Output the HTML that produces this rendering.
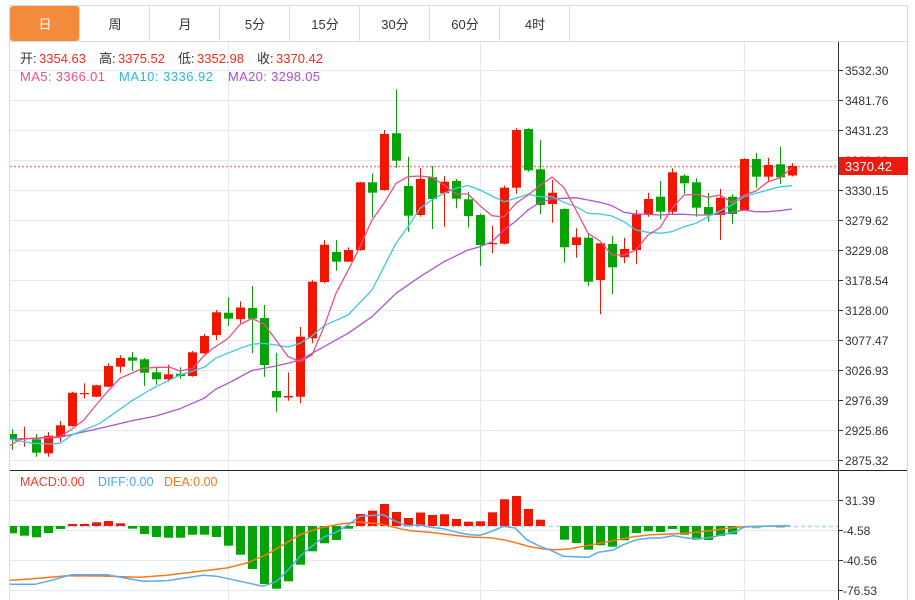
<!DOCTYPE html>
<html><head><meta charset="utf-8"><style>
html,body{margin:0;padding:0;background:#fff;}
svg{display:block;}
text{font-family:"Liberation Sans","Noto Sans CJK SC",sans-serif;}
</style></head><body>
<svg width="915" height="600" viewBox="0 0 915 600" xmlns="http://www.w3.org/2000/svg">
<defs><clipPath id="c"><rect x="10" y="42" width="828" height="558"/></clipPath></defs>
<rect width="915" height="600" fill="#fff"/>
<!-- tab bar -->
<rect x="10" y="6" width="69" height="35" rx="3" fill="#f28b3c"/>
<g stroke="#dcdcdc" stroke-width="1">
<line x1="9" y1="5.5" x2="908" y2="5.5"/>
<line x1="9.5" y1="5" x2="9.5" y2="600"/>
<line x1="907.5" y1="5" x2="907.5" y2="600"/>
<line x1="10" y1="41.5" x2="907" y2="41.5"/>
<line x1="79.5" y1="6" x2="79.5" y2="41"/>
<line x1="149.5" y1="6" x2="149.5" y2="41"/>
<line x1="219.5" y1="6" x2="219.5" y2="41"/>
<line x1="289.5" y1="6" x2="289.5" y2="41"/>
<line x1="359.5" y1="6" x2="359.5" y2="41"/>
<line x1="429.5" y1="6" x2="429.5" y2="41"/>
<line x1="499.5" y1="6" x2="499.5" y2="41"/>
<line x1="569.5" y1="6" x2="569.5" y2="41"/>
</g>
<g font-size="13" text-anchor="middle" fill="#333">
<text x="45" y="29" fill="#fff">日</text>
<text x="115" y="29">周</text>
<text x="185" y="29">月</text>
<text x="255" y="29">5分</text>
<text x="325" y="29">15分</text>
<text x="395" y="29">30分</text>
<text x="465" y="29">60分</text>
<text x="535" y="29">4时</text>
</g>
<!-- grid -->
<g stroke="#e1eaf1" stroke-width="1">
<line x1="10" y1="70.5" x2="838" y2="70.5"/>
<line x1="10" y1="100.5" x2="838" y2="100.5"/>
<line x1="10" y1="130.5" x2="838" y2="130.5"/>
<line x1="10" y1="160.5" x2="838" y2="160.5"/>
<line x1="10" y1="190.5" x2="838" y2="190.5"/>
<line x1="10" y1="220.5" x2="838" y2="220.5"/>
<line x1="10" y1="250.5" x2="838" y2="250.5"/>
<line x1="10" y1="280.5" x2="838" y2="280.5"/>
<line x1="10" y1="310.5" x2="838" y2="310.5"/>
<line x1="10" y1="340.5" x2="838" y2="340.5"/>
<line x1="10" y1="370.5" x2="838" y2="370.5"/>
<line x1="10" y1="400.5" x2="838" y2="400.5"/>
<line x1="10" y1="430.5" x2="838" y2="430.5"/>
<line x1="10" y1="460.5" x2="838" y2="460.5"/>
<line x1="10" y1="500.5" x2="838" y2="500.5"/>
<line x1="10" y1="530.5" x2="838" y2="530.5"/>
<line x1="10" y1="560.5" x2="838" y2="560.5"/>
<line x1="10" y1="590.5" x2="838" y2="590.5"/>
<line x1="228.5" y1="42" x2="228.5" y2="600"/>
<line x1="480.5" y1="42" x2="480.5" y2="600"/>
<line x1="744.5" y1="42" x2="744.5" y2="600"/>
</g>
<!-- legend -->
<g font-size="13">
<text x="20" y="63" fill="#333">开:</text><text x="39" y="63" fill="#ee2a1e">3354.63</text>
<text x="99" y="63" fill="#333">高:</text><text x="118" y="63" fill="#ee2a1e">3375.52</text>
<text x="178" y="63" fill="#333">低:</text><text x="197" y="63" fill="#ee2a1e">3352.98</text>
<text x="257" y="63" fill="#333">收:</text><text x="276" y="63" fill="#ee2a1e">3370.42</text>
<text x="20" y="81" fill="#e9508a" textLength="85">MA5: 3366.01</text>
<text x="119" y="81" fill="#22bcd8" textLength="94">MA10: 3336.92</text>
<text x="228" y="81" fill="#a853c8" textLength="92">MA20: 3298.05</text>
</g>
<g clip-path="url(#c)">
<!-- current price line -->
<line x1="10" y1="166.5" x2="838" y2="166.5" stroke="#f3807a" stroke-width="1.5" stroke-dasharray="2 2"/>
<!-- red candles -->
<g fill="#f21600" stroke="#f21600" stroke-width="1">
<line x1="24.5" y1="426.7" x2="24.5" y2="446.7"/><rect stroke="none" x="20" y="438" width="9" height="1.2"/>
<line x1="48.5" y1="432" x2="48.5" y2="456.7"/><rect stroke="none" x="44" y="435.7" width="9" height="17.6"/>
<line x1="60.5" y1="421" x2="60.5" y2="441.7"/><rect stroke="none" x="56" y="425.3" width="9" height="11.4"/>
<line x1="72.5" y1="392" x2="72.5" y2="426.7"/><rect stroke="none" x="68" y="392.7" width="9" height="33.3"/>
<line x1="84.5" y1="383.3" x2="84.5" y2="398.3"/><rect stroke="none" x="80" y="393" width="9" height="1.2"/>
<line x1="96.5" y1="384.7" x2="96.5" y2="397.3"/><rect stroke="none" x="92" y="385.3" width="9" height="11.4"/>
<line x1="108.5" y1="363.3" x2="108.5" y2="387.3"/><rect stroke="none" x="104" y="366" width="9" height="20.7"/>
<line x1="120.5" y1="355.3" x2="120.5" y2="372.7"/><rect stroke="none" x="116" y="358" width="9" height="8.7"/>
<line x1="168.5" y1="364.7" x2="168.5" y2="381.7"/><rect stroke="none" x="164" y="374.3" width="9" height="5"/>
<line x1="192.5" y1="351" x2="192.5" y2="376.7"/><rect stroke="none" x="188" y="352.3" width="9" height="23.7"/>
<line x1="204.5" y1="334" x2="204.5" y2="354"/><rect stroke="none" x="200" y="336" width="9" height="17.3"/>
<line x1="216.5" y1="310" x2="216.5" y2="340"/><rect stroke="none" x="212" y="312.3" width="9" height="22.7"/>
<line x1="240.5" y1="301.3" x2="240.5" y2="323.3"/><rect stroke="none" x="236" y="307.5" width="9" height="11.7"/>
<line x1="288.5" y1="372.5" x2="288.5" y2="400.7"/><rect stroke="none" x="284" y="396" width="9" height="1.5"/>
<line x1="300.5" y1="327" x2="300.5" y2="403.3"/><rect stroke="none" x="296" y="336.7" width="9" height="60"/>
<line x1="312.5" y1="280.3" x2="312.5" y2="343.3"/><rect stroke="none" x="308" y="281.7" width="9" height="56.6"/>
<line x1="324.5" y1="240" x2="324.5" y2="283.3"/><rect stroke="none" x="320" y="244.7" width="9" height="37.3"/>
<line x1="348.5" y1="247.3" x2="348.5" y2="261.7"/><rect stroke="none" x="344" y="250" width="9" height="11.7"/>
<line x1="360.5" y1="181.7" x2="360.5" y2="250.7"/><rect stroke="none" x="356" y="182.3" width="9" height="67.7"/>
<line x1="384.5" y1="130" x2="384.5" y2="190.7"/><rect stroke="none" x="380" y="134" width="9" height="56"/>
<line x1="420.5" y1="168" x2="420.5" y2="216.7"/><rect stroke="none" x="416" y="179" width="9" height="36"/>
<line x1="444.5" y1="176" x2="444.5" y2="226.7"/><rect stroke="none" x="440" y="181.7" width="9" height="11.6"/>
<line x1="492.5" y1="226" x2="492.5" y2="253.3"/><rect stroke="none" x="488" y="243" width="9" height="1.2"/>
<line x1="504.5" y1="185.7" x2="504.5" y2="244.3"/><rect stroke="none" x="500" y="187.7" width="9" height="56"/>
<line x1="516.5" y1="128.3" x2="516.5" y2="193.7"/><rect stroke="none" x="512" y="130" width="9" height="57.7"/>
<line x1="552.5" y1="180" x2="552.5" y2="222.7"/><rect stroke="none" x="548" y="192.7" width="9" height="11.3"/>
<line x1="576.5" y1="228.3" x2="576.5" y2="257.7"/><rect stroke="none" x="572" y="237.3" width="9" height="7.7"/>
<line x1="600.5" y1="243.3" x2="600.5" y2="314.3"/><rect stroke="none" x="596" y="243.3" width="9" height="36.7"/>
<line x1="624.5" y1="237.7" x2="624.5" y2="263.3"/><rect stroke="none" x="620" y="249" width="9" height="8.3"/>
<line x1="636.5" y1="210" x2="636.5" y2="264.3"/><rect stroke="none" x="632" y="214.3" width="9" height="35.7"/>
<line x1="648.5" y1="192.7" x2="648.5" y2="216.7"/><rect stroke="none" x="644" y="199" width="9" height="15.3"/>
<line x1="672.5" y1="168.3" x2="672.5" y2="215"/><rect stroke="none" x="668" y="172.3" width="9" height="39.4"/>
<line x1="720.5" y1="189" x2="720.5" y2="240"/><rect stroke="none" x="716" y="197.7" width="9" height="17.3"/>
<line x1="744.5" y1="158.3" x2="744.5" y2="210.7"/><rect stroke="none" x="740" y="159" width="9" height="51"/>
<line x1="768.5" y1="157.7" x2="768.5" y2="181"/><rect stroke="none" x="764" y="165" width="9" height="11.7"/>
<line x1="792.5" y1="163.1" x2="792.5" y2="176.5"/><rect stroke="none" x="788" y="166" width="9" height="9.5"/>
</g>
<!-- green candles -->
<g fill="#05a305" stroke="#05a305" stroke-width="1">
<line x1="12.5" y1="429.3" x2="12.5" y2="450"/><rect stroke="none" x="8" y="434" width="9" height="5.3"/>
<line x1="36.5" y1="434" x2="36.5" y2="456.7"/><rect stroke="none" x="32" y="439.3" width="9" height="13.4"/>
<line x1="132.5" y1="352" x2="132.5" y2="370.7"/><rect stroke="none" x="128" y="357.3" width="9" height="3.4"/>
<line x1="144.5" y1="358" x2="144.5" y2="386"/><rect stroke="none" x="140" y="359.3" width="9" height="13.4"/>
<line x1="156.5" y1="366.7" x2="156.5" y2="384.7"/><rect stroke="none" x="152" y="372.3" width="9" height="7"/>
<line x1="180.5" y1="367.3" x2="180.5" y2="378.7"/><rect stroke="none" x="176" y="373.7" width="9" height="2.3"/>
<line x1="228.5" y1="297.3" x2="228.5" y2="326"/><rect stroke="none" x="224" y="312.7" width="9" height="6"/>
<line x1="252.5" y1="286" x2="252.5" y2="353.3"/><rect stroke="none" x="248" y="308" width="9" height="10.7"/>
<line x1="264.5" y1="305" x2="264.5" y2="376.7"/><rect stroke="none" x="260" y="318" width="9" height="47"/>
<line x1="276.5" y1="352.7" x2="276.5" y2="411.7"/><rect stroke="none" x="272" y="391" width="9" height="6.5"/>
<line x1="336.5" y1="240" x2="336.5" y2="270.7"/><rect stroke="none" x="332" y="252" width="9" height="9.7"/>
<line x1="372.5" y1="173.3" x2="372.5" y2="217.3"/><rect stroke="none" x="368" y="182.3" width="9" height="10.4"/>
<line x1="396.5" y1="89.3" x2="396.5" y2="168.3"/><rect stroke="none" x="392" y="133.3" width="9" height="27.4"/>
<line x1="408.5" y1="156.7" x2="408.5" y2="231.7"/><rect stroke="none" x="404" y="186" width="9" height="29.7"/>
<line x1="432.5" y1="166" x2="432.5" y2="229"/><rect stroke="none" x="428" y="177.3" width="9" height="21.7"/>
<line x1="456.5" y1="179" x2="456.5" y2="208.3"/><rect stroke="none" x="452" y="181" width="9" height="17.7"/>
<line x1="468.5" y1="191.7" x2="468.5" y2="227.5"/><rect stroke="none" x="464" y="199.3" width="9" height="16.7"/>
<line x1="480.5" y1="213.7" x2="480.5" y2="265.7"/><rect stroke="none" x="476" y="215" width="9" height="30"/>
<line x1="528.5" y1="128.3" x2="528.5" y2="171.7"/><rect stroke="none" x="524" y="129" width="9" height="41.3"/>
<line x1="540.5" y1="140" x2="540.5" y2="214.3"/><rect stroke="none" x="536" y="169.3" width="9" height="35.7"/>
<line x1="564.5" y1="208.3" x2="564.5" y2="262.7"/><rect stroke="none" x="560" y="209" width="9" height="38.3"/>
<line x1="588.5" y1="233.3" x2="588.5" y2="286"/><rect stroke="none" x="584" y="237.7" width="9" height="44"/>
<line x1="612.5" y1="236" x2="612.5" y2="294.3"/><rect stroke="none" x="608" y="244" width="9" height="23.3"/>
<line x1="660.5" y1="181" x2="660.5" y2="219.3"/><rect stroke="none" x="656" y="196.7" width="9" height="15"/>
<line x1="684.5" y1="174.3" x2="684.5" y2="193.7"/><rect stroke="none" x="680" y="175.7" width="9" height="7.6"/>
<line x1="696.5" y1="178.3" x2="696.5" y2="216.7"/><rect stroke="none" x="692" y="182.3" width="9" height="25.4"/>
<line x1="708.5" y1="193" x2="708.5" y2="221.7"/><rect stroke="none" x="704" y="207" width="9" height="7.3"/>
<line x1="732.5" y1="194.3" x2="732.5" y2="224.3"/><rect stroke="none" x="728" y="196.7" width="9" height="17.3"/>
<line x1="756.5" y1="152.7" x2="756.5" y2="187.7"/><rect stroke="none" x="752" y="159" width="9" height="17.7"/>
<line x1="780.5" y1="146.7" x2="780.5" y2="184"/><rect stroke="none" x="776" y="164.3" width="9" height="13"/>
</g>
<!-- MA lines -->
<g fill="none" stroke-width="1.3" stroke-linejoin="round">
<polyline stroke="#b255c9" points="10,439.3 60,437.3 100,428.3 132,420.7 156,416 180,408.7 204,398.3 216,389 228,383.3 252,370.5 276,366 288,363.3 300,360 324,346.7 348,333.3 372,316.7 396,293.3 420,276.7 444,261.7 468,250 480,246.7 492,241.7 504,230 516,221 528,210 540,202.3 552,199 564,198.3 576,197.7 588,200 600,202.3 612,205.7 624,212.3 636,214 648,214.3 660,215 672,214.3 684,214.3 696,215 708,215 720,214 732,212.3 744,210 756,211.7 768,211.7 780,210.7 792,209"/>
<polyline stroke="#3fc8e0" points="10,439.3 33,443.3 50,444 60,443.3 72,435 100,423.3 132,400.7 150,390 156,386.7 180,375 204,367.3 216,358 240,348.3 252,344.2 264,343.3 276,345 288,347 300,343.3 312,336 324,325.7 348,315 372,290 384,266.7 396,243.3 408,226.7 420,208.3 432,200 444,193.3 456,188.3 468,185.5 480,190 492,196 504,201.7 516,198.3 528,194.3 540,196.7 552,196.7 564,202.3 576,206.7 588,213.3 600,214 612,216 624,221.7 636,230 648,232.3 660,233.3 672,231.7 684,226.7 696,223.3 708,216.7 720,211 732,205 744,196.7 756,193.3 768,190 780,186.7 792,185.7"/>
<polyline stroke="#ec4d86" points="10,445.7 20,439.3 33,438.3 60,436.7 72,429 84,420 96,405 108,391 120,378.3 143,368.3 157,367.3 170,367.3 180,371 193,368.3 203,356.7 213,348.3 228,338.5 240,324.5 252,318.5 264,324 276,340 288,356.5 300,361.7 312,355 324,326.7 336,293.3 350,266.7 360,246.7 372,220 384,203.3 396,183.3 408,176.7 420,176 432,177.3 444,185 456,194 468,194 480,205.7 492,215.7 504,217 516,203.3 528,195 540,185.7 552,177 564,187.7 576,210 588,233.3 600,241 612,255 624,255 636,250 648,235 660,227.7 672,208.3 684,195 696,194.3 708,197.3 720,195 732,202.3 744,195 756,191 768,181.7 780,177.7 792,167.7"/>
</g>
<!-- MACD -->
<line x1="10" y1="526.5" x2="838" y2="526.5" stroke="#a9d9ee" stroke-width="1.5" stroke-dasharray="4 3"/>
<g fill="#05a305">
<rect x="8" y="526" width="9" height="7.3"/>
<rect x="20" y="526" width="9" height="9.7"/>
<rect x="32" y="526" width="9" height="11.3"/>
<rect x="44" y="526" width="9" height="7"/>
<rect x="56" y="526" width="9" height="3"/>
<rect x="128" y="526" width="9" height="2.7"/>
<rect x="140" y="526" width="9" height="8"/>
<rect x="152" y="526" width="9" height="11"/>
<rect x="164" y="526" width="9" height="11.7"/>
<rect x="176" y="526" width="9" height="11.7"/>
<rect x="188" y="526" width="9" height="8.7"/>
<rect x="200" y="526" width="9" height="8.7"/>
<rect x="212" y="526" width="9" height="11"/>
<rect x="224" y="526" width="9" height="19.7"/>
<rect x="236" y="526" width="9" height="28.7"/>
<rect x="248" y="526" width="9" height="43"/>
<rect x="260" y="526" width="9" height="58"/>
<rect x="272" y="526" width="9" height="62.7"/>
<rect x="284" y="526" width="9" height="55.3"/>
<rect x="296" y="526" width="9" height="38.7"/>
<rect x="308" y="526" width="9" height="25.3"/>
<rect x="320" y="526" width="9" height="17.3"/>
<rect x="332" y="526" width="9" height="14"/>
<rect x="344" y="526" width="9" height="2.7"/>
<rect x="560" y="526" width="9" height="13.7"/>
<rect x="572" y="526" width="9" height="17"/>
<rect x="584" y="526" width="9" height="23.7"/>
<rect x="596" y="526" width="9" height="19.3"/>
<rect x="608" y="526" width="9" height="20.7"/>
<rect x="620" y="526" width="9" height="14.3"/>
<rect x="632" y="526" width="9" height="7"/>
<rect x="644" y="526" width="9" height="5.3"/>
<rect x="656" y="526" width="9" height="6"/>
<rect x="668" y="526" width="9" height="3"/>
<rect x="680" y="526" width="9" height="8.7"/>
<rect x="692" y="526" width="9" height="13.7"/>
<rect x="704" y="526" width="9" height="14"/>
<rect x="716" y="526" width="9" height="10"/>
<rect x="728" y="526" width="9" height="8.3"/>
<rect x="752" y="526" width="9" height="2.3" opacity="0.5"/>
<rect x="776" y="526" width="9" height="1.7" opacity="0.5"/>
</g>
<g fill="#f21600">
<rect x="68" y="524" width="9" height="2"/>
<rect x="80" y="524" width="9" height="2"/>
<rect x="92" y="522.3" width="9" height="3.7"/>
<rect x="104" y="521" width="9" height="5"/>
<rect x="116" y="523.3" width="9" height="2.7"/>
<rect x="356" y="514" width="9" height="12"/>
<rect x="368" y="510.7" width="9" height="15.3"/>
<rect x="380" y="504" width="9" height="22"/>
<rect x="392" y="512" width="9" height="14"/>
<rect x="404" y="518" width="9" height="8"/>
<rect x="416" y="512.5" width="9" height="13.5"/>
<rect x="428" y="515" width="9" height="11"/>
<rect x="440" y="514.3" width="9" height="11.7"/>
<rect x="452" y="519" width="9" height="7"/>
<rect x="464" y="521.7" width="9" height="4.3"/>
<rect x="476" y="521.3" width="9" height="4.7"/>
<rect x="488" y="512.3" width="9" height="13.7"/>
<rect x="500" y="499.3" width="9" height="26.7"/>
<rect x="512" y="496" width="9" height="30"/>
<rect x="524" y="509" width="9" height="17"/>
<rect x="536" y="519.7" width="9" height="6.3"/>
</g>
<g fill="none" stroke-width="1.5" stroke-linejoin="round">
<polyline stroke="#f7781c" points="10,580.3 33,578.7 66.7,575.7 100,576 140,577.3 166.7,575.3 200,571.3 226.7,568 246.7,563 266.7,554.7 283.3,544.7 300,534.7 320,528 340,524 360,522 380,524 400,528.7 410,530.7 430,532.3 450,534.7 470,537 490,537.7 503.3,539.7 516.7,543 530,546.7 543.3,549 556.7,549.7 570,548.7 586.7,545.7 610,541.3 630,537.3 650,534.7 676.7,533.7 696.7,532.3 716.7,529.7 736.7,527.3 743.3,526.7 790,525.7"/>
<polyline stroke="#5aaaf0" points="10,584.3 35,584.3 50,580.7 71.7,574.7 106.7,574.7 143,581.3 166.7,580.7 203,575.3 216.7,576.3 233,579.7 263,586.3 276.7,581.3 290,568 300,556.3 311.7,546.3 323.3,537.3 336.7,532 348.3,524.7 360,516.3 383.3,514.7 393.3,520.3 406.7,525.7 420,524.7 430,527.3 443.3,528.7 456.7,532.3 470,534.7 480,535.3 491.7,531.3 503.3,526.3 515,528 526.7,539.7 540,546.3 551.7,550.7 563.3,556.3 588.3,557.3 598.3,552.3 613.3,550 623.3,544.7 636.7,539.7 650,538 660,538 673.3,535.7 686.7,538 700,538.7 713.3,537 726.7,533.7 736.7,531.3 743.3,527.3 756.7,526.3 790,525.7"/>
</g>
</g>
<!-- MACD legend -->
<g font-size="12.5">
<text x="20" y="486" fill="#f03a2a">MACD:0.00</text>
<text x="98" y="486" fill="#4ba6f0">DIFF:0.00</text>
<text x="164" y="486" fill="#f5771f">DEA:0.00</text>
</g>
<!-- separators / axis -->
<line x1="10" y1="470.5" x2="907" y2="470.5" stroke="#222" stroke-width="1"/>
<line x1="838.5" y1="42" x2="838.5" y2="600" stroke="#333" stroke-width="1"/>
<g stroke="#333" stroke-width="1">
<line x1="838" y1="70.5" x2="843" y2="70.5"/>
<line x1="838" y1="100.5" x2="843" y2="100.5"/>
<line x1="838" y1="130.5" x2="843" y2="130.5"/>
<line x1="838" y1="160.5" x2="843" y2="160.5"/>
<line x1="838" y1="190.5" x2="843" y2="190.5"/>
<line x1="838" y1="220.5" x2="843" y2="220.5"/>
<line x1="838" y1="250.5" x2="843" y2="250.5"/>
<line x1="838" y1="280.5" x2="843" y2="280.5"/>
<line x1="838" y1="310.5" x2="843" y2="310.5"/>
<line x1="838" y1="340.5" x2="843" y2="340.5"/>
<line x1="838" y1="370.5" x2="843" y2="370.5"/>
<line x1="838" y1="400.5" x2="843" y2="400.5"/>
<line x1="838" y1="430.5" x2="843" y2="430.5"/>
<line x1="838" y1="460.5" x2="843" y2="460.5"/>
<line x1="838" y1="500.5" x2="843" y2="500.5"/>
<line x1="838" y1="530.5" x2="843" y2="530.5"/>
<line x1="838" y1="560.5" x2="843" y2="560.5"/>
<line x1="838" y1="590.5" x2="843" y2="590.5"/>
</g>
<g font-size="12" fill="#333">
<text x="845" y="75">3532.30</text>
<text x="845" y="105">3481.76</text>
<text x="845" y="135">3431.23</text>
<text x="845" y="165">3380.69</text>
<text x="845" y="195">3330.15</text>
<text x="845" y="225">3279.62</text>
<text x="845" y="255">3229.08</text>
<text x="845" y="285">3178.54</text>
<text x="845" y="315">3128.00</text>
<text x="845" y="345">3077.47</text>
<text x="845" y="375">3026.93</text>
<text x="845" y="405">2976.39</text>
<text x="845" y="435">2925.86</text>
<text x="845" y="465">2875.32</text>
<text x="845" y="505">31.39</text>
<text x="843" y="535">-4.58</text>
<text x="843" y="565">-40.56</text>
<text x="843" y="595">-76.53</text>
</g>
<rect x="839" y="157" width="69" height="18" fill="#f0190d"/>
<text x="845" y="171" font-size="13" fill="#fff">3370.42</text>
</svg>
</body></html>
